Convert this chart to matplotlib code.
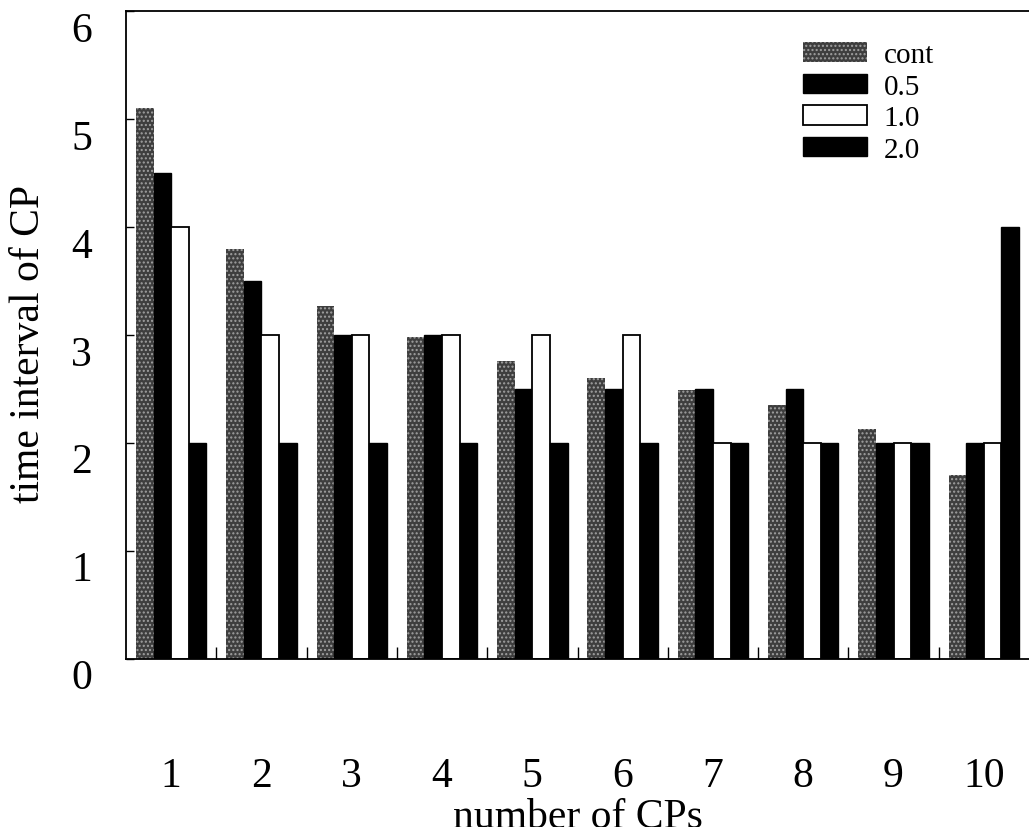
import matplotlib

matplotlib.use("Agg")
import matplotlib.pyplot as plt  # noqa: E402
import numpy as np  # noqa: E402

plt.rcParams["font.family"] = ["Liberation Serif", "DejaVu Serif"]
plt.rcParams["hatch.color"] = "#a0a0a0"
plt.rcParams["hatch.linewidth"] = 1.0

groups = [1, 2, 3, 4, 5, 6, 7, 8, 9, 10]
series = ["cont", "0.5", "1.0", "2.0"]
cont = [5.1, 3.8, 3.27, 2.98, 2.76, 2.6, 2.49, 2.35, 2.13, 1.7]
v05 = [4.5, 3.5, 3.0, 3.0, 2.5, 2.5, 2.5, 2.5, 2.0, 2.0]
v10 = [4.0, 3.0, 3.0, 3.0, 3.0, 3.0, 2.0, 2.0, 2.0, 2.0]
v20 = [2.0, 2.0, 2.0, 2.0, 2.0, 2.0, 2.0, 2.0, 2.0, 4.0]

fig = plt.figure(figsize=(10.29, 8.28), dpi=100)
ax = fig.add_axes([126 / 1029, 1 - 660 / 828, 903 / 1029, 648 / 828])

x = np.array(groups, dtype=float)
w = 0.195
ax.bar(x - 1.5 * w, cont, w, color="#3e3e3e", hatch="....", linewidth=0, label=series[0])
ax.bar(x - 0.5 * w, v05, w, color="black", edgecolor="black", linewidth=1, label=series[1])
ax.bar(x + 0.5 * w, v10, w, color="white", edgecolor="black", linewidth=1.3, label=series[2])
ax.bar(x + 1.5 * w, v20, w, color="black", edgecolor="black", linewidth=1, label=series[3])

ax.set_xlim(0.5, 10.5)
ax.set_ylim(0, 6)
ax.set_xticks(groups)
ax.set_xticklabels([str(g) for g in groups])
ax.set_xticks(np.arange(1.5, 10.5, 1.0), minor=True)
ax.tick_params(axis="x", which="major", length=0, pad=70, labelsize=30)
ax.tick_params(axis="x", which="minor", direction="in", length=9, width=1)
ax.set_yticks(range(7))
ax.tick_params(axis="y", direction="in", length=6, width=1, pad=24.5, labelsize=30)
for lab in ax.get_yticklabels():
    lab.set_verticalalignment("top")

for s in ["left", "top", "bottom"]:
    ax.spines[s].set_linewidth(1.3)
ax.spines["right"].set_visible(False)

ax.set_xlabel("number of CPs", fontsize=30)
ax.xaxis.set_label_coords(0.5, -0.213)
ax.set_ylabel("time interval of CP", fontsize=30)
ax.yaxis.set_label_coords(-0.086, 0.488)

ax.legend(loc="upper left", bbox_to_anchor=(0.75, 0.952), frameon=False,
          fontsize=21, handlelength=2.2, handleheight=0.65, handletextpad=0.55,
          labelspacing=0.19, borderaxespad=0, borderpad=0)

fig.savefig("out.png", dpi=100)
